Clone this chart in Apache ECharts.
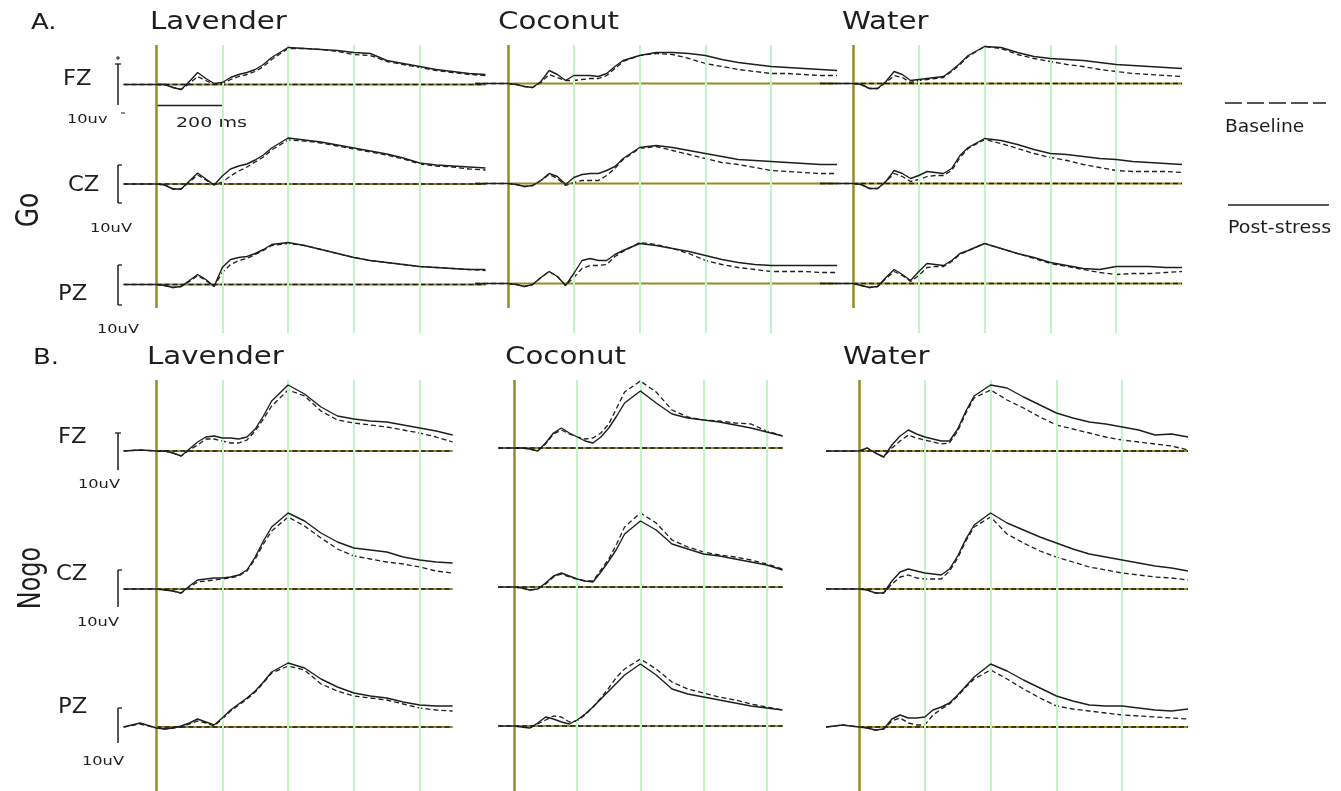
<!DOCTYPE html>
<html>
<head>
<meta charset="utf-8">
<script src="https://cdn.jsdelivr.net/npm/echarts@6/dist/echarts.min.js"></script>
<style>
  html, body { margin: 0; padding: 0; background: #fff; }
  #chart { width: 1341px; height: 791px; }
</style>
</head>
<body>
<div id="chart"></div>
<script>
// time points (ms) shared by every trace
const times = [-100, -50, 0, 25, 50, 75, 100, 125, 150, 175, 200, 225, 250, 275, 300, 325, 350, 400, 450, 500, 550, 600, 650, 700, 750, 800, 850, 900, 950, 1000];
const conditions = ["Go", "Nogo"];
const odors = ["Lavender", "Coconut", "Water"];
const electrodes = ["FZ", "CZ", "PZ"];
const gridTimes = [200, 400, 600, 800];

/* Go, amplitudes in uV (post-stress = solid, baseline = dashed) */
const goLavFzPost = [0,0,0,0,-0.75,-1.25,0.75,3,1.5,0.25,0.5,1.75,2.5,3,3.75,5,6.75,9.25,9,8.75,8.5,8,7.75,6,5.25,4.5,3.75,3.25,2.75,2.5];
const goLavFzBase = [0,0,0,0,-0.75,-1.25,0.25,2,1,0,0.25,1.25,2,2.5,3.25,4.5,6.25,9,9,8.75,8.25,7.5,7.25,5.75,5,4.25,3.5,3,2.5,2.25];
const goLavCzPost = [0,0,0,-0.25,-1.25,-1.25,0.75,2.75,1.25,-0.25,2,3.75,4.5,5,6,7.25,9,11.5,11,10.5,9.75,9,8.25,7.5,6.5,5.25,4.75,4.5,4.25,4];
const goLavCzBase = [0,0,0,-0.25,-1.25,-1.25,0.5,2.25,1,-0.25,0.5,2,3.25,4.25,5.5,6.75,8.5,11,10.75,10.25,9.5,8.75,8,7.25,6.25,5,4.5,4.25,3.75,3.5];
const goLavPzPost = [0,0,0,-0.25,-0.75,-0.5,1,2.5,1.25,-0.5,4.25,6.25,6.75,7,7.75,8.75,10,10.5,9.75,8.75,7.75,6.75,6,5.5,5,4.5,4.25,4,3.75,3.75];
const goLavPzBase = [0,0,0,-0.25,-0.75,-0.5,0.75,2.25,1,-0.5,3,5,6,6.5,7.5,8.5,9.75,10.25,9.75,8.75,7.75,6.75,6,5.5,5,4.5,4.25,4,3.75,3.5];
const goCocFzPost = [0,0,0,-0.25,-0.75,-1,0.5,3.25,2.25,0.75,2,2,2,1.75,2.5,4.25,5.75,7,7.75,7.75,7.5,7,6,5.25,4.75,4.25,4,3.75,3.5,3.25];
const goCocFzBase = [0,0,0,-0.25,-0.75,-1,0.25,2.25,1.5,0.75,0.75,1,1.25,1.25,2,3.75,5.5,7,7.5,7.25,6.25,5,4.25,3.5,3,2.5,2.5,2.25,2,2];
const goCocCzPost = [0,0,0,-0.25,-0.75,-0.5,0.75,2.5,1.75,-0.25,1.5,2.25,2.5,2.5,3.25,4.25,6.25,9,9.5,9,8.25,7.5,6.75,6,5.75,5.5,5.25,5,4.75,4.75];
const goCocCzBase = [0,0,0,-0.25,-0.75,-0.5,0.75,2.25,1.25,-0.5,0.25,0.75,0.75,0.75,2,3.75,6,8.75,9.25,8.25,7.25,6.25,5.25,4.75,4,3.25,3,2.75,2.5,2.5];
const goCocPzPost = [0,0,0,-0.25,-0.75,-0.25,1.5,3,1.75,-0.5,2.5,5.75,6.25,5.75,5.75,7.25,8.25,10,9.5,8.75,8,7,6,5.25,4.75,4.5,4.5,4.5,4.5,4.5];
const goCocPzBase = [0,0,0,-0.25,-0.75,-0.25,1.5,3,1.75,-0.5,1.5,3.75,4.5,4.5,4.75,6.75,8,10.25,9.75,8.75,7.5,5.75,4.75,4,3.5,3,3,3,2.75,2.75];
const goWatFzPost = [0,0,0,-0.25,-1.25,-1.25,0.5,3,2.25,0.75,1,1.25,1.5,1.75,3.25,5,7,9.25,9,7.75,6.75,6.25,6,5.75,5.25,4.75,4.5,4.25,4,3.75];
const goWatFzBase = [0,0,0,-0.25,-1.25,-1.25,0.25,2,1.5,0.25,0.75,1,1.25,1.5,3,4.75,6.75,9.25,8.75,7.25,6.25,5.5,4.75,4.25,3.5,3,2.5,2.25,2,1.75];
const goWatCzPost = [0,0,0,-0.25,-1.25,-1.25,0.5,3.25,2.5,1.25,2,3,2.75,2.5,3.75,7,9,11.25,10.75,9.75,8.5,7.5,7.25,6.75,6.25,6,5.5,5.25,5,4.75];
const goWatCzBase = [0,0,0,-0.25,-1.25,-1.25,0.5,2.5,1.75,0.5,1,1.75,2,2,3.25,6.5,8.75,11,10,8.75,7.5,6.5,5.75,4.75,4,3.25,3,3,3,2.75];
const goWatPzPost = [0,0,0,-0.5,-1,-0.75,1.5,3.5,2.25,0.75,3,5,4.75,4.5,5.75,7.5,8.25,10,8.75,7.5,6.5,5.25,4.5,3.75,3.5,4.25,4.25,4.25,4,4];
const goWatPzBase = [0,0,0,-0.5,-1,-0.75,1.25,3,2,0.5,2,4,4.25,4.25,5.5,7.25,8.25,10,8.75,7.5,6.25,5,4.25,3.5,2.75,2.25,2.5,2.5,2.75,3];

/* Nogo */
const nogoLavFzPost = [0,0.25,0,0,-0.5,-1.25,0.5,2.25,3.5,3.75,3.25,3.25,3,3.5,5.5,8.75,12.5,16.5,14.25,11,8.75,8,7.5,7.25,6.5,5.75,5,4,null,null];
const nogoLavFzBase = [0,0.25,0,0,-0.5,-1.25,0.25,1.5,3,3,2.5,2,2,2.75,5,8,11.25,15.25,13.75,10,7.75,7,6.5,6,5.25,4.5,3.5,2.25,null,null];
const nogoLavCzPost = [0,0,0,-0.25,-0.5,-1,0.75,2.25,2.5,2.75,2.75,3,3.5,4.75,8,12,15.5,19,17,14,11.75,10.25,9.75,9.25,8,7.25,6.75,6.5,null,null];
const nogoLavCzBase = [0,0,0,-0.25,-0.5,-1,0.5,1.75,2,2.25,2.5,2.75,3.25,4.5,7.5,11.25,14.5,18,15.75,12.75,10,8.25,7.5,6.75,6.25,5.5,4.5,4,null,null];
const nogoLavPzPost = [0,1,-0.25,-0.5,-0.25,0.25,1,2,1.25,0.5,2.25,4.25,5.75,7.25,9,11.25,13.75,16,14.75,12,10,8.5,7.75,7.25,6.25,5.5,5.25,5.25,null,null];
const nogoLavPzBase = [0,0.75,-0.25,-0.5,-0.25,0,0.75,1.5,1,0.25,2,4,5.5,7,8.75,11,13.5,15.25,14.25,10.75,9,7.75,7.25,6.75,5.75,4.75,4.25,4,null,null];
const nogoCocFzPost = [null,0,0,0,-0.25,-0.75,1.25,3.75,5,3.75,2.75,1.75,1.25,2.75,5,8,11.25,14.25,11.25,8.5,7.5,7,6.5,5.75,5,4,3,null,null,null];
const nogoCocFzBase = [null,0,0,0,-0.25,-0.75,1,3.5,4.5,3.5,2.75,2.25,2.5,3.75,6,10,14,16.75,14,9.5,7.75,7,6.75,6.25,6,4.25,3,null,null,null];
const nogoCocCzPost = [null,0,0,-0.25,-0.75,-0.5,1,2.75,3.5,2.75,2,1.5,1.25,3.75,6.5,9.5,13.25,16.5,14.25,10.75,9.5,8.25,7.75,7,6.25,5.5,4.25,null,null,null];
const nogoCocCzBase = [null,0,0,-0.25,-0.75,-0.5,0.75,2.5,3.25,2.5,2,1.5,1.5,4.25,7,10.75,15,18.5,16,11.75,10,8.75,8,7.5,6.75,5.75,4.5,null,null,null];
const nogoCocPzPost = [null,0,0,-0.25,-0.5,0.75,2.25,1.75,1,0.5,1.5,3,4.75,6.75,8.75,10.75,12.75,15.5,12.75,9.25,8,7.25,6.5,5.75,5,4.5,4,null,null,null];
const nogoCocPzBase = [null,0,0,-0.25,-0.5,0.5,1.5,2.5,2.25,1,1.25,2.75,4.75,7,9.5,12.25,14.25,16.75,14.25,11,9.25,8.25,7.25,6.5,5.5,4.75,4,null,null,null];
const nogoWatFzPost = [0,0,0,0.75,-0.5,-1.5,1.5,3.75,5.25,4.25,3.5,3,2.5,2.5,5.5,10,13.75,16.5,15.75,13.5,11.5,9.5,8.25,7.25,6.75,6,5.25,4,4.25,3.5];
const nogoWatFzBase = [0,0,0,0.75,-0.5,-1.5,0.75,2.5,4,3.25,2.75,2.25,1.75,2,5,9.5,13.25,15.25,12.75,10.75,8.5,6.5,5.5,4.5,3.5,2.75,2.25,1.75,1.25,0.25];
const nogoWatCzPost = [0,0,0,-0.25,-1,-1,2,4.25,5,4.5,4,3.75,3.5,5,8.25,12.5,16,19,16.5,14.75,13,11.5,10,8.75,8,7.25,6.5,5.75,5.25,4.5];
const nogoWatCzBase = [0,0,0,-0.25,-1,-1,1.25,3,3.5,2.75,2.5,2.5,2.5,4.5,7.75,12,15.5,18,13.75,11.5,9.5,8,6.75,5.5,4.75,4,3.5,3,2.75,2.25];
const nogoWatPzPost = [0,0.5,0,-0.25,-0.75,-0.5,2,3,2.25,2.25,2.5,4.25,5,6,8,10.25,12.5,15.75,14,11.75,9.75,7.75,6.5,5.5,5.25,5.25,4.75,4.25,4,4.5];
const nogoWatPzBase = [0,0.5,0,-0.25,-0.75,-0.5,1.5,2.25,1,0.5,0.5,3,4.5,5.75,7.75,10,12,14.25,12,9.5,7.25,5.25,4.5,4,3.5,3,2.75,2.5,2.25,2];

const traces = {
  Go: {
    Lavender: { FZ: [goLavFzPost, goLavFzBase], CZ: [goLavCzPost, goLavCzBase], PZ: [goLavPzPost, goLavPzBase] },
    Coconut: { FZ: [goCocFzPost, goCocFzBase], CZ: [goCocCzPost, goCocCzBase], PZ: [goCocPzPost, goCocPzBase] },
    Water: { FZ: [goWatFzPost, goWatFzBase], CZ: [goWatCzPost, goWatCzBase], PZ: [goWatPzPost, goWatPzBase] }
  },
  Nogo: {
    Lavender: { FZ: [nogoLavFzPost, nogoLavFzBase], CZ: [nogoLavCzPost, nogoLavCzBase], PZ: [nogoLavPzPost, nogoLavPzBase] },
    Coconut: { FZ: [nogoCocFzPost, nogoCocFzBase], CZ: [nogoCocCzPost, nogoCocCzBase], PZ: [nogoCocPzPost, nogoCocPzBase] },
    Water: { FZ: [nogoWatFzPost, nogoWatFzBase], CZ: [nogoWatCzPost, nogoWatCzBase], PZ: [nogoWatPzPost, nogoWatPzBase] }
  }
};

/* page layout (pixels) */
const PX_PER_UV = 4;
const Y_MIN = -5, Y_MAX = 20;
const OLIVE = "#968c24";
const GREEN = "#c2f4c6";
const INK = "#1e1e1e";
const FONT = '"DejaVu Sans", Verdana, sans-serif';

const layout = {
  Go: {
    cols: [
      { t0: 156.5, k: 0.329, min: -100, max: 1000 },
      { t0: 508, k: 0.329, min: -100, max: 1000 },
      { t0: 853, k: 0.329, min: -100, max: 1000 }
    ],
    zero: { FZ: [84.5, 83.5, 83.5], CZ: [184, 183.5, 183.5], PZ: [284.5, 283.5, 283.5] },
    top: 45, greenBottom: 333, oliveBottom: 308
  },
  Nogo: {
    cols: [
      { t0: 156.5, k: 0.329, min: -100, max: 900 },
      { t0: 514, k: 0.316, min: -50, max: 850 },
      { t0: 859, k: 0.329, min: -100, max: 1000 }
    ],
    zero: { FZ: [451, 448, 451], CZ: [589, 587, 589], PZ: [727, 726, 727] },
    top: 380, greenBottom: 791, oliveBottom: 791
  }
};

let option = {
  animation: false,
  backgroundColor: "#fff",
  grid: [],
  xAxis: [],
  yAxis: [],
  series: [],
  graphic: []
};

function addGrid(left, top, width, height, xmin, xmax, ymin, ymax) {
  let i = option.grid.length;
  option.grid.push({ left: left, top: top, width: width, height: height });
  option.xAxis.push({ type: "value", gridIndex: i, min: xmin, max: xmax, show: false });
  option.yAxis.push({ type: "value", gridIndex: i, min: ymin, max: ymax, show: false });
  return i;
}

function addVerticals(idx, xs, color, width) {
  option.series.push({
    type: "line",
    xAxisIndex: idx,
    yAxisIndex: idx,
    data: [],
    silent: true,
    z: 1,
    markLine: {
      silent: true,
      symbol: ["none", "none"],
      label: { show: false },
      lineStyle: { color: color, width: width, type: "solid" },
      data: xs.map(function (v) { return { xAxis: v }; })
    }
  });
}

function addLine(idx, pts, color, width, type, z) {
  option.series.push({
    type: "line",
    xAxisIndex: idx,
    yAxisIndex: idx,
    data: pts,
    symbol: "none",
    silent: true,
    z: z,
    lineStyle: { color: color, width: width, type: type }
  });
}

conditions.forEach(function (cond) {
  let L = layout[cond];
  odors.forEach(function (odor, c) {
    let col = L.cols[c];
    let left = col.t0 + col.min * col.k;
    let width = (col.max - col.min) * col.k;
    // light green 200 ms grid and olive stimulus onset line
    let g = addGrid(left, L.top, width, L.greenBottom - L.top, col.min, col.max, 0, 1);
    addVerticals(g, gridTimes.filter(function (t) { return t < col.max; }), GREEN, 2);
    let o = addGrid(left, L.top, width, L.oliveBottom - L.top, col.min, col.max, 0, 1);
    addVerticals(o, [0], OLIVE, 2.5);

    electrodes.forEach(function (el) {
      let zeroY = L.zero[el][c];
      let idx = addGrid(left, zeroY - Y_MAX * PX_PER_UV, width, (Y_MAX - Y_MIN) * PX_PER_UV,
        col.min, col.max, Y_MIN, Y_MAX);
      let zeroPts = [[0, 0], [col.max, 0]];
      addLine(idx, zeroPts, OLIVE, 2, "solid", 2);
      if (!(cond === "Go" && odor === "Coconut")) {
        addLine(idx, zeroPts, INK, 1.4, [5, 3], 3);
      }
      let post = traces[cond][odor][el][0];
      let base = traces[cond][odor][el][1];
      let toPts = function (vals) {
        let out = [];
        times.forEach(function (t, j) { if (vals[j] !== null) out.push([t, vals[j]]); });
        return out;
      };
      addLine(idx, toPts(base), INK, 1.3, [5, 3], 4);
      addLine(idx, toPts(post), INK, 1.4, "solid", 5);
    });
  });
});

/* text and scale bars */
function txt(x, y, text, size, sx, extra) {
  let el = {
    type: "text",
    x: x,
    y: y,
    scaleX: sx,
    silent: true,
    style: {
      text: text,
      font: size + "px " + FONT,
      fill: INK,
      align: "left",
      verticalAlign: "middle",
      textAlign: "left",
      textVerticalAlign: "middle"
    }
  };
  if (extra) Object.assign(el, extra);
  return el;
}
function seg(x1, y1, x2, y2, w, dash) {
  return {
    type: "line",
    silent: true,
    shape: { x1: x1, y1: y1, x2: x2, y2: y2 },
    style: { stroke: INK, lineWidth: w || 1.4, lineDash: dash || null }
  };
}

let gr = option.graphic;
// section headings
gr.push(txt(31, 23, "A.", 22, 1.18));
gr.push(txt(33, 358, "B.", 22, 1.18));
const titleX = { Go: [150, 498, 842], Nogo: [147, 505, 843] };
const titleY = { Go: 23, Nogo: 358 };
conditions.forEach(function (cond) {
  odors.forEach(function (odor, c) {
    gr.push(txt(titleX[cond][c], titleY[cond], odor, 24, 1.22));
  });
});
// electrode names
const elecPos = {
  Go: { FZ: [63, 80], CZ: [68, 186], PZ: [58, 295] },
  Nogo: { FZ: [58, 438], CZ: [56, 575], PZ: [58, 708] }
};
conditions.forEach(function (cond) {
  electrodes.forEach(function (el) {
    gr.push(txt(elecPos[cond][el][0], elecPos[cond][el][1], el, 21, 1.08));
  });
});
// condition labels, vertical
gr.push(txt(30, 210, "Go", 25, 1, { rotation: Math.PI / 2, scaleY: 1.25, style: { text: "Go", font: "25px " + FONT, fill: INK, align: "center", verticalAlign: "middle", textAlign: "center", textVerticalAlign: "middle" } }));
gr.push(txt(32, 578, "Nogo", 24, 1, { rotation: Math.PI / 2, scaleY: 1.3, style: { text: "Nogo", font: "24px " + FONT, fill: INK, align: "center", verticalAlign: "middle", textAlign: "center", textVerticalAlign: "middle" } }));

// amplitude scale bars
gr.push(seg(118, 64, 118, 105, 1.5));
gr.push(seg(115, 64, 121, 64, 1.3));
gr.push(seg(116, 58, 120, 58, 1));
gr.push(seg(118, 56, 118, 60, 1));
gr.push(seg(121, 113, 125, 113, 1));
gr.push(txt(67, 120, "10uv", 12, 1.35));
[[165, 203, 229, 90], [265, 305, 330, 97]].forEach(function (b) {
  gr.push(seg(118, b[0], 118, b[1], 1.5));
  gr.push(seg(118, b[0], 122, b[0], 1.3));
  gr.push(seg(118, b[1], 122, b[1], 1.3));
  gr.push(txt(b[3], b[2], "10uV", 12, 1.35));
});
gr.push(seg(118, 433, 118, 470, 1.5));
gr.push(seg(115, 433, 121, 433, 1.3));
gr.push(txt(78, 485, "10uV", 12, 1.35));
[[570, 607, 623, 77], [708, 743, 762, 82]].forEach(function (b) {
  gr.push(seg(118, b[0], 118, b[1], 1.5));
  gr.push(seg(118, b[0], 122, b[0], 1.3));
  gr.push(txt(b[3], b[2], "10uV", 12, 1.35));
});
// time scale bar
gr.push(seg(157, 105.5, 224, 105.5, 1.5));
gr.push(txt(176, 123, "200 ms", 14, 1.36));

// legend
gr.push(seg(1225, 103, 1326, 103, 1.4, [17, 5]));
gr.push(txt(1225, 128, "Baseline", 17, 1.1));
gr.push(seg(1228, 205, 1329, 205, 1.4));
gr.push(txt(1228, 229, "Post-stress", 17, 1.12));

let myChart = echarts.init(document.getElementById("chart"));
myChart.setOption(option);
</script>
</body>
</html>
